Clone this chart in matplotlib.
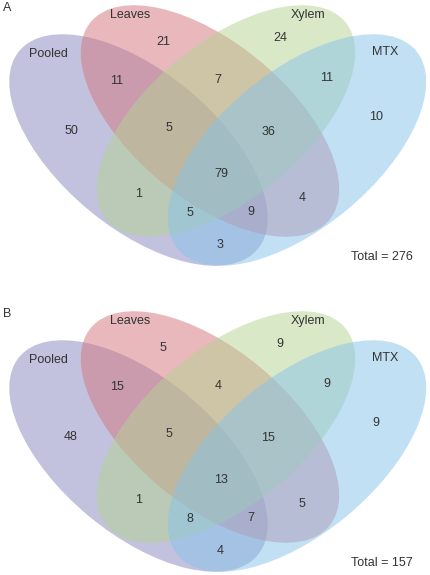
import matplotlib.pyplot as plt
from matplotlib.patches import Ellipse

# Data: counts per Venn region for each panel
sets = ['Pooled', 'Leaves', 'Xylem', 'MTX']
regions = ['L', 'X', 'PL', 'LX', 'XM', 'P', 'M', 'PLX', 'LXM', 'PLXM',
           'PX', 'LM', 'PXM', 'PLM', 'PM']
counts_a = [21, 24, 11, 7, 11, 50, 10, 5, 36, 79, 1, 4, 5, 9, 3]
counts_b = [5, 9, 15, 4, 9, 48, 9, 5, 15, 13, 1, 5, 8, 7, 4]
totals = [276, 157]
panel_labels = ['A', 'B']

# Layout (pixel coordinates inside one panel)
colors = ['#8787be', '#d2737d', '#b4d291', '#87c3eb']
ell_centers = [(138.5, 150), (210, 121), (226, 121), (297, 150)]
ell_angles = [39.7, 39.7, -39.7, -39.7]
ell_w, ell_h = 310, 156
name_pos = [(48, 54), (130, 15), (308, 15), (385, 52)]
region_pos = {
    'L': (163, 42), 'X': (280, 38), 'PL': (117, 81), 'LX': (218, 80),
    'XM': (327, 78), 'P': (71, 131), 'M': (376, 117), 'PLX': (169, 128),
    'LXM': (268, 132), 'PLXM': (221, 174), 'PX': (139, 194), 'LM': (302, 198),
    'PXM': (190, 213), 'PLM': (251, 212), 'PM': (220, 245),
}
offsets = [0, 306]
txt = '#333333'

plt.rcParams['font.family'] = ['Liberation Sans', 'DejaVu Sans']
fig = plt.figure(figsize=(4.30, 5.75), dpi=100)
ax = fig.add_axes([0, 0, 1, 1])
ax.set_xlim(0, 430)
ax.set_ylim(575, 0)
ax.axis('off')

for k, (counts, dy) in enumerate(zip([counts_a, counts_b], offsets)):
    for (cx, cy), ang, c in zip(ell_centers, ell_angles, colors):
        ax.add_patch(Ellipse((cx, cy + dy), ell_w, ell_h, angle=ang,
                             facecolor=c, edgecolor='none', alpha=0.5))
    for name, (x, y) in zip(sets, name_pos):
        ax.text(x, y + dy, name, ha='center', va='center', fontsize=9, color=txt)
    for r, n in zip(regions, counts):
        x, y = region_pos[r]
        ax.text(x, y + dy, str(n), ha='center', va='center', fontsize=9, color=txt)
    ax.text(382, 257 + dy, 'Total = %d' % totals[k], ha='center', va='center',
            fontsize=9, color=txt)
    ax.text(7, 8 + dy, panel_labels[k], ha='center', va='center', fontsize=9,
            color=txt)

fig.savefig('out.png', dpi=100)
